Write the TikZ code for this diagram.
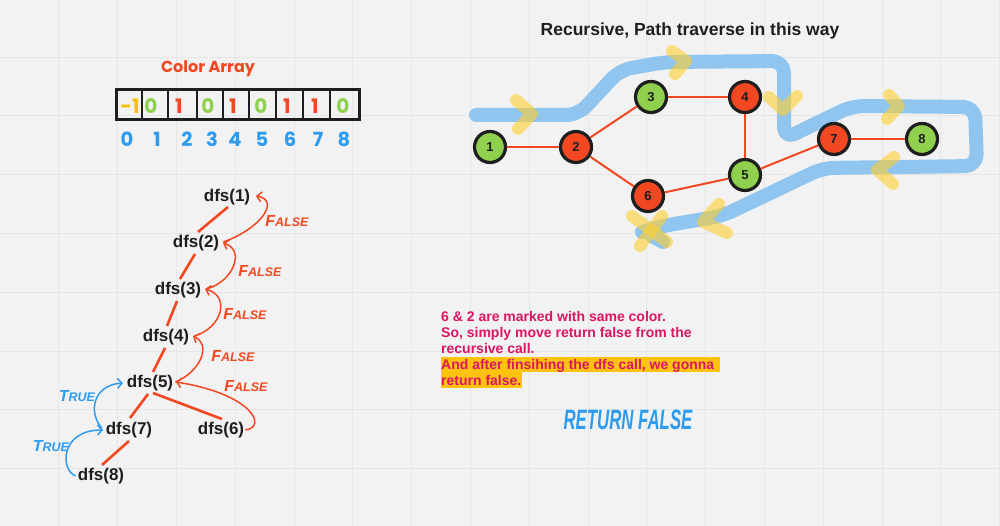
\documentclass[tikz,border=0pt]{standalone}
\usepackage{fontspec}
\setmainfont{Liberation Sans}
\newfontfamily\roundfont{Poppins}
\usetikzlibrary{arrows.meta}
\definecolor{bg}{HTML}{F2F2F2}
\definecolor{gridc}{HTML}{E6E6E6}
\definecolor{ink}{HTML}{1E1E1E}
\definecolor{fred}{HTML}{F24822}
\definecolor{fgreen}{HTML}{8FD14F}
\definecolor{fyellow}{HTML}{F8C10E}
\definecolor{fblue}{HTML}{2E9BEF}
\definecolor{pathblue}{HTML}{8FC5EE}
\definecolor{chev}{HTML}{FFD02F}
\definecolor{fpink}{HTML}{DC1465}
\definecolor{hilite}{HTML}{FFC20E}
\newcommand\brushword[2]{{\fontsize{16}{16}\selectfont #1}{\fontsize{12.5}{13}\selectfont #2}}
\begin{document}
\begin{tikzpicture}[x=1pt,y=-1pt,
  gridline/.style={gridc, line width=0.8pt},
  dfsnode/.style={font=\bfseries\fontsize{17}{20}\selectfont, text=ink, inner sep=0pt},
  treeedge/.style={fred, line width=2.6pt},
  falsearrow/.style={fred, line width=1.5pt, -{Straight Barb[length=4.5pt,width=10pt]}},
  truearrow/.style={fblue, line width=1.5pt, -{Straight Barb[length=4.5pt,width=10pt]}},
  falselabel/.style={text=fred, font=\bfseries\itshape, inner sep=0pt},
  truelabel/.style={text=fblue, font=\bfseries\itshape, inner sep=0pt},
  gnode/.style={circle, draw=ink, line width=3.2pt, minimum size=31pt, inner sep=0pt,
    font=\bfseries\fontsize{13}{13}\selectfont, text=ink},
  gedge/.style={fred, line width=2pt},
  arrval/.style={font=\roundfont\bfseries\fontsize{20}{20}\selectfont, inner sep=0pt},
  idx/.style={font=\roundfont\bfseries\fontsize{19.5}{19.5}\selectfont, text=fblue, inner sep=0pt},
  bluepath/.style={pathblue, line width=14pt, line cap=round, line join=round},
  chevron/.style={chev, line width=12pt, line cap=round, line join=round, opacity=0.6},
  noteline/.style={anchor=base west, inner sep=0pt, text=fpink, font=\bfseries\fontsize{14}{16}\selectfont}
]
\useasboundingbox (0,0) rectangle (1000,526);
\fill[bg] (0,0) rectangle (1000,526);
\foreach \i in {1,...,17} \draw[gridline] (\i*58.8,0) -- (\i*58.8,526);
\foreach \j in {-1,...,8} \draw[gridline] (0,57+\j*58.8) -- (1000,57+\j*58.8);

% ---------- Color array ----------
\node[font=\roundfont\bfseries\fontsize{16}{16}\selectfont, text=fred] (title) at (208,69) {Color Array};
\draw[ink, line width=3pt] (116,90) rectangle (359,120);
\foreach \x in {142,168,197,223,249,276,303,330} \draw[ink, line width=2.6pt] (\x,90) -- (\x,121);
\node[arrval, text=fyellow] (v0) at (130,106) {-1};
\node[arrval, text=fgreen] (v1) at (151,106) {0};
\node[arrval, text=fred]   (v2) at (179,106) {1};
\node[arrval, text=fgreen] (v3) at (208,106) {0};
\node[arrval, text=fred]   (v4) at (233,106) {1};
\node[arrval, text=fgreen] (v5) at (261,106) {0};
\node[arrval, text=fred]   (v6) at (287,106) {1};
\node[arrval, text=fred]   (v7) at (315,106) {1};
\node[arrval, text=fgreen] (v8) at (343,106) {0};
\node[idx] (i0) at (127,139) {0};
\node[idx] (i1) at (157,139) {1};
\node[idx] (i2) at (187,139) {2};
\node[idx] (i3) at (212,139) {3};
\node[idx] (i4) at (235,139) {4};
\node[idx] (i5) at (262,139) {5};
\node[idx] (i6) at (290,139) {6};
\node[idx] (i7) at (318,139) {7};
\node[idx] (i8) at (344,139) {8};

% ---------- Recursion tree ----------
\node[dfsnode] (d1) at (227,197) {dfs(1)};
\node[dfsnode] (d2) at (196,243) {dfs(2)};
\node[dfsnode] (d3) at (178,290) {dfs(3)};
\node[dfsnode] (d4) at (166,337) {dfs(4)};
\node[dfsnode] (d5) at (150,383) {dfs(5)};
\node[dfsnode] (d7) at (129,430) {dfs(7)};
\node[dfsnode] (d6) at (221,430) {dfs(6)};
\node[dfsnode] (d8) at (101,476) {dfs(8)};

\coordinate (a1) at (228,207); \coordinate (b1) at (198,232);
\coordinate (a2) at (195,254); \coordinate (b2) at (180,279);
\coordinate (a3) at (177,301); \coordinate (b3) at (167,326);
\coordinate (a4) at (165,348); \coordinate (b4) at (153,372);
\coordinate (a5) at (148,394); \coordinate (b5) at (130,418);
\coordinate (a6) at (153,393); \coordinate (b6) at (222,419);
\coordinate (a7) at (129,441); \coordinate (b7) at (102,465);
\draw[treeedge] (a1) -- (b1);
\draw[treeedge] (a2) -- (b2);
\draw[treeedge] (a3) -- (b3);
\draw[treeedge] (a4) -- (b4);
\draw[treeedge] (a5) -- (b5);
\draw[treeedge] (a6) -- (b6);
\draw[treeedge] (a7) -- (b7);

\draw[falsearrow] (d2.east) ++(4,-1) .. controls (262,228) and (280,200) .. (256,196);
\draw[falsearrow] (d3.east) ++(5,-1) .. controls (233,282) and (246,250) .. (223,243);
\draw[falsearrow] (d4.east) ++(5,-1) .. controls (222,328) and (231,296) .. (205,289);
\draw[falsearrow] (d5.east) ++(2,-1) .. controls (200,372) and (212,345) .. (193,336);
\draw[falsearrow] (d6.east) ++(1,0) .. controls (268,427) and (252,394) .. (176,382);
\draw[truearrow] (d7.west) ++(-4,-2) .. controls (88,412) and (93,385) .. (123,383);
\draw[truearrow] (d8.west) ++(-2,0) .. controls (60,470) and (60,430) .. (103,430);

\node[falselabel] (f1) at (287,221) {\brushword{F}{ALSE}};
\node[falselabel] (f2) at (260,271) {\brushword{F}{ALSE}};
\node[falselabel] (f3) at (245,314) {\brushword{F}{ALSE}};
\node[falselabel] (f4) at (233,356) {\brushword{F}{ALSE}};
\node[falselabel] (f5) at (246,386) {\brushword{F}{ALSE}};
\node[truelabel] (t1) at (77,396) {\brushword{T}{RUE}};
\node[truelabel] (t2) at (51,446) {\brushword{T}{RUE}};

% ---------- Graph ----------
\node[font=\bfseries\fontsize{17.5}{20}\selectfont, text=ink] (gtitle) at (690,31) {Recursive, Path traverse in this way};

\draw[bluepath, rounded corners=12pt] (476,115) -- (578,115) -- (620,70) -- (665,62) -- (784,61) -- (784,139) -- (852,106) -- (975,107) -- (977,166) -- (823,168) -- (722,216) -- (662,226) -- (642,232);
\draw[bluepath] (652,236) -- (663,242);

\node[gnode, fill=fgreen] (n1) at (490,147) {1};
\node[gnode, fill=fred]   (n2) at (576,147) {2};
\node[gnode, fill=fgreen] (n3) at (651,97) {3};
\node[gnode, fill=fred]   (n4) at (745,97) {4};
\node[gnode, fill=fgreen] (n5) at (745,175) {5};
\node[gnode, fill=fred]   (n6) at (648,196) {6};
\node[gnode, fill=fred]   (n7) at (834,139) {7};
\node[gnode, fill=fgreen] (n8) at (922,139) {8};
\draw[gedge] (n1) -- (n2);
\draw[gedge] (n2) -- (n3);
\draw[gedge] (n2) -- (n6);
\draw[gedge] (n3) -- (n4);
\draw[gedge] (n4) -- (n5);
\draw[gedge] (n6) -- (n5);
\draw[gedge] (n5) -- (n7);
\draw[gedge] (n7) -- (n8);

\draw[chevron] (516,100) -- (532,114) -- (518,129);
\draw[chevron] (672,51) -- (686,61) -- (675,74);
\draw[chevron] (769,97) -- (783,110) -- (797,96);
\draw[chevron] (889,95) -- (899,106) -- (887,119);
\draw[chevron] (894,157) -- (877,170) -- (893,184);
\draw[chevron] (719,204) -- (703,222) -- (727,233);
\draw[chevron] (632,216) -- (667,242);
\draw[chevron] (662,216) -- (640,246);

% ---------- Note ----------
\fill[hilite] (441,356.5) rectangle (720,372.3);
\fill[hilite] (441,372.3) rectangle (522,388.3);
\node[noteline] (l1) at (441,321) {6 \& 2 are marked with same color.};
\node[noteline] (l2) at (441,337) {So, simply move return false from the};
\node[noteline] (l3) at (441,353) {recursive call.};
\node[noteline] (l4) at (441,369) {And after finsihing the dfs call, we gonna};
\node[noteline] (l5) at (441,385) {return false.};

\node[text=fblue, inner sep=0pt] (ret) at (628,420) {\scalebox{0.6}[1]{\bfseries\itshape\fontsize{28}{28}\selectfont RETURN FALSE}};
\end{tikzpicture}
\end{document}
